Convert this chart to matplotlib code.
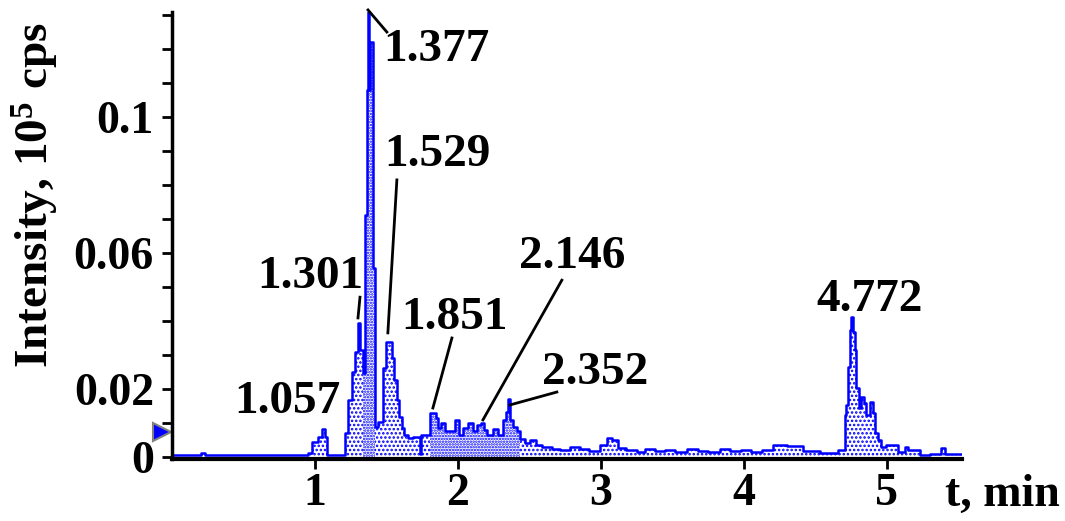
import numpy as np
import matplotlib
matplotlib.use("Agg")
import matplotlib.pyplot as plt
from matplotlib.ticker import FixedLocator, FixedFormatter

plt.rcParams['font.family'] = ['Liberation Serif', 'DejaVu Serif']
plt.rcParams['font.weight'] = 'bold'
plt.rcParams['axes.labelweight'] = 'bold'
plt.rcParams['mathtext.default'] = 'regular'
plt.rcParams['hatch.color'] = 'blue'
plt.rcParams['hatch.linewidth'] = 1.2

# chromatogram, step data: left edge time (min) and intensity (10^5 cps)
t = [0.00, 0.20, 0.23, 0.95, 0.977, 1.023, 1.047, 1.070, 1.082,
     1.210, 1.233, 1.257, 1.280, 1.303, 1.315, 1.338, 1.352, 1.361, 1.374, 1.380,
     1.385, 1.403, 1.417, 1.443, 1.478, 1.494, 1.536, 1.552, 1.571, 1.587,
     1.606, 1.625, 1.653, 1.688, 1.734, 1.745, 1.804, 1.846, 1.862, 1.885,
     1.909, 1.979, 2.009, 2.033, 2.073, 2.108, 2.131, 2.159, 2.183, 2.206,
     2.248, 2.283, 2.313, 2.334, 2.353, 2.365, 2.388, 2.411, 2.434, 2.469,
     2.504, 2.546, 2.585, 2.655, 2.713, 2.783, 2.853, 2.920, 2.993, 3.040,
     3.075, 3.121, 3.179, 3.250, 3.310, 3.380, 3.450, 3.520, 3.600, 3.680,
     3.750, 3.830, 3.900, 3.980, 4.050, 4.130, 4.205, 4.300, 4.415, 4.531,
     4.660, 4.706, 4.718, 4.729, 4.741, 4.752, 4.764, 4.776, 4.787, 4.806,
     4.822, 4.839, 4.857, 4.881, 4.904, 4.916, 4.939, 4.962, 4.997, 5.079,
     5.125, 5.149, 5.230, 5.300, 5.382, 5.405, 5.522]
intensity = [0.0005, 0.0013, 0.0005, 0.0012, 0.0045, 0.0060, 0.0082, 0.0060, 0.0005,
             0.0071, 0.0168, 0.0251, 0.0310, 0.0394, 0.0316, 0.0246, 0.0712, 0.1080, 0.1315, 0.1080,
             0.1222, 0.0555, 0.0089, 0.0104, 0.0261, 0.0338, 0.0290, 0.0226, 0.0168, 0.0118,
             0.0084, 0.0065, 0.0055, 0.0060, 0.0010, 0.0065, 0.0128, 0.0114, 0.0085, 0.0101,
             0.0075, 0.0109, 0.0065, 0.0085, 0.0100, 0.0075, 0.0095, 0.0100, 0.0080, 0.0065,
             0.0083, 0.0065, 0.0109, 0.0133, 0.0170, 0.0109, 0.0089, 0.0075, 0.0052, 0.0040,
             0.0050, 0.0035, 0.0030, 0.0023, 0.0020, 0.0030, 0.0022, 0.0018, 0.0035, 0.0055,
             0.0050, 0.0026, 0.0020, 0.0015, 0.0022, 0.0018, 0.0020, 0.0014, 0.0022, 0.0019,
             0.0016, 0.0022, 0.0018, 0.0020, 0.0015, 0.0021, 0.0035, 0.0032, 0.0017, 0.0011,
             0.0020, 0.0124, 0.0153, 0.0266, 0.0374, 0.0413, 0.0368, 0.0315, 0.0202, 0.0143,
             0.0177, 0.0158, 0.0124, 0.0163, 0.0128, 0.0070, 0.0050, 0.0030, 0.0035, 0.0016,
             0.0030, 0.0020, 0.0006, 0.0010, 0.0027, 0.0008, 0.0008]

peak_labels = ['1.057', '1.301', '1.377', '1.529', '1.851', '2.146', '2.352', '4.772']
xticks = [1, 2, 3, 4, 5]
ytick_vals = [0, 0.01, 0.02, 0.03, 0.04, 0.05, 0.06, 0.07, 0.08, 0.09, 0.10, 0.11, 0.12, 0.13]
ytick_text = ['0', '', '0.02', '', '', '', '0.06', '', '', '', '0.1', '', '', '']

t = np.array(t)
intensity = np.array(intensity)

fig = plt.figure(figsize=(10.65, 5.21), dpi=100)
ax = fig.add_axes([0.1615, 0.119, 0.7415, 0.858])

dense = (t >= 1.33) & (t < 1.42) | (t >= 1.78) & (t < 2.45)
ax.fill_between(t, intensity, step='post', facecolor='white', edgecolor='blue',
                hatch='....', linewidth=0)
ax.fill_between(t, intensity, step='post', where=dense, facecolor='white', edgecolor='blue',
                hatch='......', linewidth=0)
ax.step(t, intensity, where='post', color='blue', lw=1.8)

ax.set_xlim(0, 5.524)
ax.set_ylim(-0.0006, 0.1309)

for s in ['top', 'right']:
    ax.spines[s].set_visible(False)
ax.spines['left'].set_linewidth(2.5)
ax.spines['bottom'].set_linewidth(3)

ax.set_xticks(xticks)
ax.yaxis.set_major_locator(FixedLocator(ytick_vals))
ax.yaxis.set_major_formatter(FixedFormatter(ytick_text))
ax.tick_params(axis='both', direction='out', width=2, length=7, labelsize=33)
ax.tick_params(axis='x', pad=3)
ax.tick_params(axis='y', pad=6)

ax.set_ylabel('Intensity, 10$^{5}$ cps', fontsize=34)
ax.yaxis.set_label_coords(-0.140, 0.59)
fig.text(0.995, 0.01, 't, min', fontsize=33, ha='right', va='bottom')

# marker on the y axis
ax.plot([-0.07], [0.0074], marker='>', ms=13, color='blue', mec='grey', mew=1.5, clip_on=False)

# peak annotations: text position, leader line
pos = {
    '1.057': ((0.804, 0.0162), None),
    '1.301': ((0.965, 0.0529), ((1.315, 0.047), (1.301, 0.0409))),
    '1.377': ((1.846, 0.1197), ((1.503, 0.125), (1.371, 0.1315))),
    '1.529': ((1.860, 0.0888), ((1.573, 0.0815), (1.510, 0.0365))),
    '1.851': ((1.979, 0.0409), ((1.958, 0.035), (1.825, 0.0144))),
    '2.146': ((2.797, 0.0588), ((2.727, 0.052), (2.175, 0.0109))),
    '2.352': ((2.958, 0.0247), ((2.692, 0.0191), (2.364, 0.0153))),
    '4.772': ((4.881, 0.0462), None),
}
for lab in peak_labels:
    (tx, ty), line = pos[lab]
    ax.text(tx, ty, lab, fontsize=34, ha='center', va='center', clip_on=False)
    if line is not None:
        (x0, y0), (x1, y1) = line
        ax.plot([x0, x1], [y0, y1], color='black', lw=2, clip_on=False)

fig.savefig('out.png', dpi=100)
